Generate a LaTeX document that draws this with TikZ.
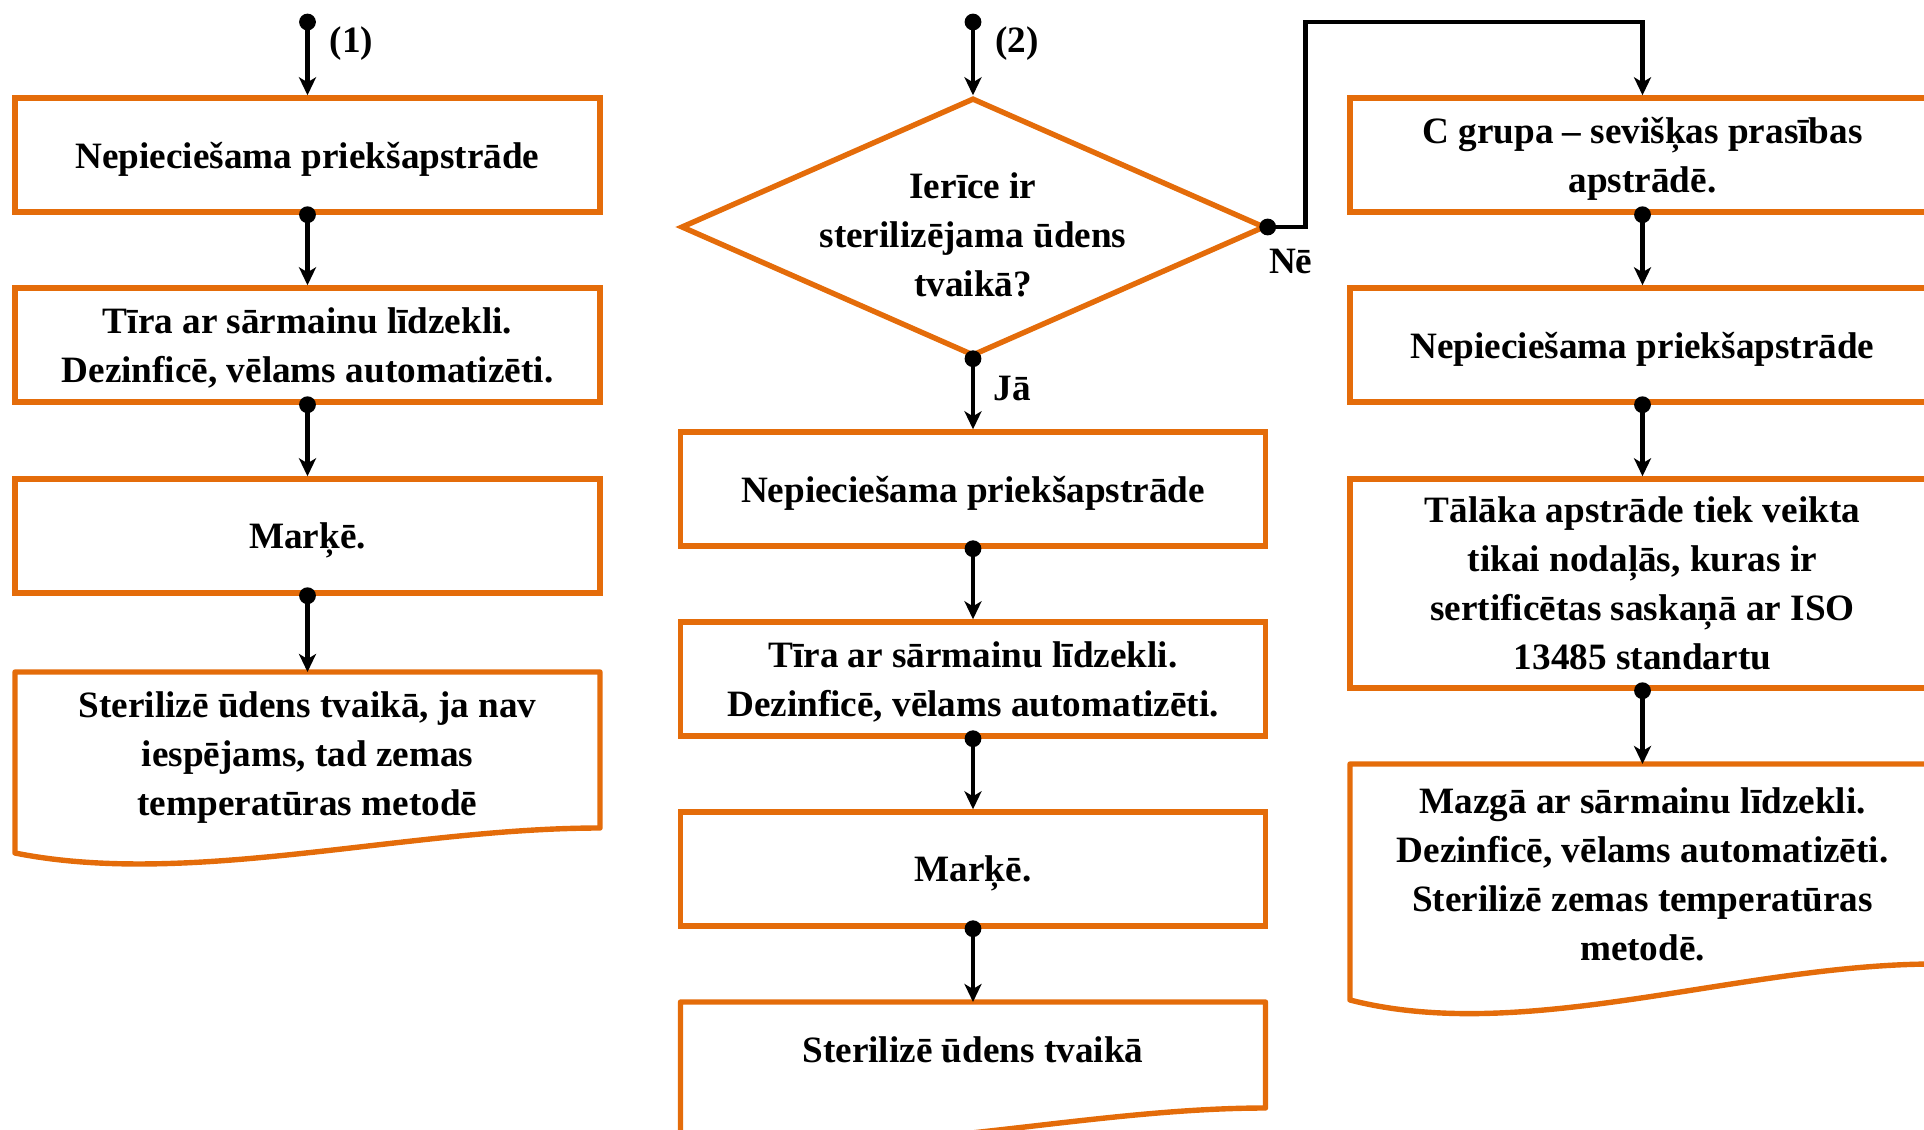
\documentclass[tikz,border=0pt]{standalone}
\usepackage{fontspec}
\setmainfont{Liberation Serif}
\usetikzlibrary{arrows.meta,shapes.geometric,calc}
\definecolor{boxOrange}{HTML}{E46C0A}

\begin{document}
\begin{tikzpicture}[x=0.5pt, y=-0.5pt,
      font=\fontsize{18.6pt}{24.5pt}\selectfont\bfseries,
      bx/.style={draw=boxOrange, line width=2.7pt, minimum width=292.5pt,
                 minimum height=57pt, align=center, inner sep=3pt, text depth=0pt},
      docbox/.style={minimum width=292.5pt, align=center, anchor=north,
                     outer sep=0pt, inner sep=3pt},
      docline/.style={draw=boxOrange, line width=2.7pt, line join=round},
      decision/.style={diamond, draw=boxOrange, line width=2.7pt,
                       minimum width=292pt, minimum height=129pt, inner sep=0pt},
      conn/.style={-{Stealth[length=9pt,width=8.5pt,inset=2.5pt]}, line width=2.4pt},
      lbl/.style={inner sep=0pt, anchor=west}]
    \useasboundingbox (0,0) rectangle (1924,1130);
    \clip (0,0) rectangle (1924,1130);
    % left column
    \coordinate (s1) at (307.5,22);
    \node[bx] (l1) at (307.5,155) {Nepieciešama priekšapstrāde};
    \node[bx] (l2) at (307.5,345) {Tīra ar sārmainu līdzekli.\\Dezinficē, vēlams automatizēti.};
    \node[bx] (l3) at (307.5,536) {Marķē.};
    \node[docbox, minimum height=86pt] (l4) at (307.5,672)
      {Sterilizē ūdens tvaikā, ja nav\\iespējams, tad zemas\\temperatūras metodē};
    \draw[docline] (l4.north west) -- (l4.north east) -- ++(0,156)
      .. controls +(-195,0) and +(175,35) .. ($(l4.north west)+(0,181)$) -- cycle;
    % middle column
    \coordinate (s2) at (973,22);
    \node[decision] (dm) at (973,227) {};
    \node[inner sep=0pt, align=center] (dmt) at ($(dm.center)+(0,8)$)
      {Ierīce ir\\sterilizējama ūdens\\tvaikā?};
    \node[bx] (m1) at (973,489) {Nepieciešama priekšapstrāde};
    \node[bx] (m2) at (973,679) {Tīra ar sārmainu līdzekli.\\Dezinficē, vēlams automatizēti.};
    \node[bx] (m3) at (973,869) {Marķē.};
    \node[docbox, minimum height=48pt] (m4) at (973,1002) {Sterilizē ūdens tvaikā};
    \draw[docline] (m4.north west) -- (m4.north east) -- ++(0,106)
      .. controls +(-195,0) and +(175,35) .. ($(m4.north west)+(0,131)$) -- cycle;
    % right column
    \node[bx] (r1) at (1642.5,155) {C grupa – sevišķas prasības\\apstrādē.};
    \node[bx] (r2) at (1642.5,345) {Nepieciešama priekšapstrāde};
    \node[bx, minimum height=104.5pt] (r3) at (1642.5,583.5)
      {Tālāka apstrāde tiek veikta\\tikai nodaļās, kuras ir\\sertificētas saskaņā ar ISO\\13485 standartu};
    \node[docbox, minimum height=110pt] (r4) at (1642.5,764)
      {Mazgā ar sārmainu līdzekli.\\Dezinficē, vēlams automatizēti.\\Sterilizē zemas temperatūras\\metodē.};
    \draw[docline] (r4.north west) -- (r4.north east) -- ++(0,200)
      .. controls +(-195,0) and +(175,45) .. ($(r4.north west)+(0,236)$) -- cycle;
    % connectors
    \draw[conn] (s1) -- node[lbl, pos=0.3, xshift=10pt] (n1) {(1)} (l1.north);
    \fill (s1) circle (4.2pt);
    \draw[conn] (s2) -- node[lbl, pos=0.3, xshift=10pt] (n2) {(2)} (dm.north);
    \fill (s2) circle (4.2pt);
    \draw[conn] (dm.south) -- node[lbl, pos=0.42, xshift=9pt] (ja) {Jā} (m1.north);
    \fill (dm.south) circle (4.2pt);
    \draw[conn] (dm.east) -- ++(38,0) |- (s2 -| r1.north) -- (r1.north);
    \fill (dm.east) circle (4.2pt);
    \node[anchor=north, inner sep=0pt] (ne) at ($(dm.east)+(23,22)$) {Nē};
    \foreach \a/\b in {l1/l2,l2/l3,l3/l4,m1/m2,m2/m3,m3/m4,r1/r2,r2/r3,r3/r4}
      {\draw[conn] (\a.south) -- (\b.north); \fill (\a.south) circle (4.2pt);}
  \end{tikzpicture}
\end{document}
